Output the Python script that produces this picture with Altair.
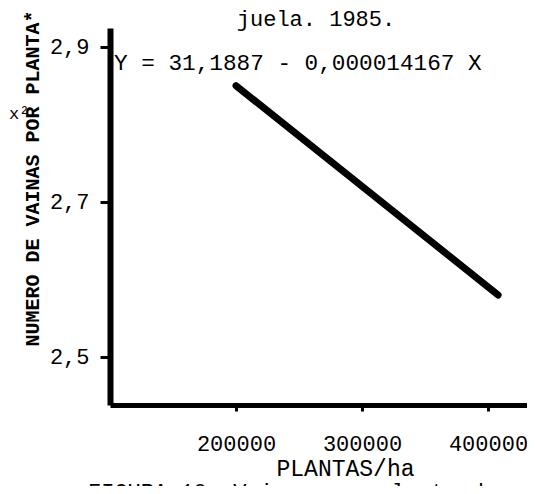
import altair as alt
import pandas as pd

# Data
plantas = [200000, 408000]          # PLANTAS/ha (line end points)
vainas = [2.85, 2.58]               # NUMERO DE VAINAS POR PLANTA
x_ticks = [200000, 300000, 400000]
y_ticks = [2.5, 2.7, 2.9]

equation = "Y = 31,1887 - 0,000014167 X"
caption = "FIGURA 10.  Vainas por planta de"
header = "juela.  1985."

FONT = "Liberation Mono"

df = pd.DataFrame({"x": plantas, "y": vainas})

xscale = alt.Scale(domain=[100000, 430950], nice=False, zero=False)
yscale = alt.Scale(domain=[2.438, 2.9245], nice=False, zero=False)

line = alt.Chart(df).mark_line(color="black", strokeWidth=7, strokeCap="round").encode(
    x=alt.X("x:Q", scale=xscale,
            axis=alt.Axis(values=x_ticks, format="d", title="PLANTAS/ha",
                          grid=False, domainColor="black", domainWidth=5,
                          tickColor="black", tickWidth=3, tickSize=6,
                          labelFont=FONT, labelFontSize=22, labelColor="black",
                          labelPadding=22, labelFlush=False,
                          titleFont=FONT, titleFontSize=23, titleFontWeight="normal",
                          titleColor="black", titleX=235, titleY=52,
                          titleBaseline="top", titleAlign="center")),
    y=alt.Y("y:Q", scale=yscale,
            axis=alt.Axis(values=y_ticks,
                          labelExpr="replace(format(datum.value, '.1f'), '.', ',')",
                          title="NUMERO DE VAINAS POR PLANTA*",
                          grid=False, domainColor="black", domainWidth=6,
                          tickColor="black", tickWidth=3, tickSize=10,
                          labelFont=FONT, labelFontSize=22, labelColor="black",
                          labelPadding=11, labelFlush=False,
                          titleFont=FONT, titleFontSize=20, titleFontWeight="bold",
                          titleColor="black", titleX=-78, titleY=150,
                          titleAngle=270, titleBaseline="middle", titleAlign="center")),
)

def note(text, x, y, size=21, align="left", baseline="middle"):
    return alt.Chart(pd.DataFrame({"t": [text]})).mark_text(
        font=FONT, fontSize=size, color="black", align=align, baseline=baseline
    ).encode(x=alt.value(x), y=alt.value(y), text="t:N")

eq_text = note(equation, 4, 35, size=22.7)
cap = note(caption, -22, 454, size=22, baseline="top")
sq = note("x²", -101, 86, size=17)
head = note(header, 206, -2, size=22, align="center", baseline="alphabetic")

chart = alt.layer(line, eq_text, cap, sq, head).properties(
    width=417, height=377,
    autosize="none",
    padding={"left": 102, "top": 20, "right": 0, "bottom": 81},
    background="white",
).configure_view(stroke=None)

chart.save("out.html", embed_options={"renderer": "svg", "actions": False})
